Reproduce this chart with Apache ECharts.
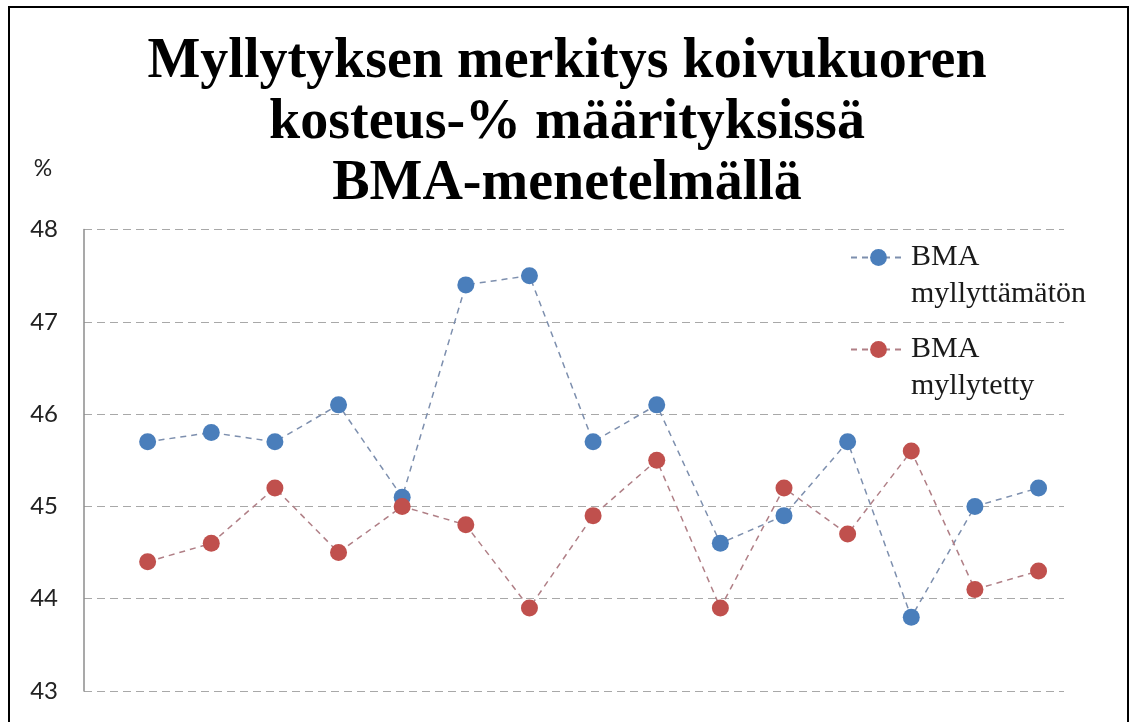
<!DOCTYPE html>
<html>
<head>
<meta charset="utf-8">
<script src="https://cdn.jsdelivr.net/npm/echarts@6/dist/echarts.min.js"></script>
<style>
  html, body { margin: 0; padding: 0; background: #ffffff; }
  #chart { width: 1134px; height: 722px; }
</style>
</head>
<body>
<div id="chart"></div>
<script>
// Sample numbers along the horizontal axis
const samples = [1, 2, 3, 4, 5, 6, 7, 8, 9, 10, 11, 12, 13, 14, 15];
// Moisture-% of birch bark, unmilled vs milled samples (BMA method)
const unmilled = [45.7, 45.8, 45.7, 46.1, 45.1, 47.4, 47.5, 45.7, 46.1, 44.6, 44.9, 45.7, 43.8, 45.0, 45.2];
const milled   = [44.4, 44.6, 45.2, 44.5, 45.0, 44.8, 43.9, 44.9, 45.5, 43.9, 45.2, 44.7, 45.6, 44.1, 44.3];
const seriesNames = ['BMA myllyttämätön', 'BMA myllytetty'];
const titleLines = ['Myllytyksen merkitys koivukuoren', 'kosteus-% määrityksissä', 'BMA-menetelmällä'];
const yMin = 43, yMax = 48, yStep = 1;

const chart = echarts.init(document.getElementById('chart'), null, { renderer: 'canvas' });

function lineSeries(name, values, markerColor, lineColor) {
  return {
    name: name,
    type: 'line',
    data: samples.map((s, i) => [s, values[i]]),
    symbol: 'circle',
    symbolSize: 17,
    itemStyle: { color: markerColor },
    lineStyle: { color: lineColor, width: 1.5, type: [6, 5] },
    emphasis: { disabled: true },
    animation: false
  };
}

chart.setOption({
  backgroundColor: '#ffffff',
  animation: false,
  grid: { left: 84, right: 70, top: 229.5, bottom: 31, containLabel: false },
  xAxis: {
    type: 'value',
    min: 0,
    max: 15.4,
    axisLine: { show: false },
    axisTick: { show: false },
    axisLabel: { show: false },
    splitLine: { show: false }
  },
  yAxis: {
    type: 'value',
    min: yMin,
    max: yMax,
    interval: yStep,
    axisLine: { show: true, lineStyle: { color: '#8c8c8c', width: 1.5 } },
    axisTick: { show: false },
    axisLabel: {
      margin: 26,
      color: '#222222',
      fontFamily: 'Lato',
      fontSize: 24
    },
    splitLine: { show: true, lineStyle: { color: '#a8a8a8', width: 1, type: [8, 5] } }
  },
  legend: {
    orient: 'vertical',
    left: 845,
    top: 197,
    itemWidth: 55,
    itemHeight: 21,
    itemGap: -19,
    data: seriesNames,
    // a leading blank line keeps the marker level with the first text line
    formatter: name => '\n' + name.replace(' ', '\n'),
    textStyle: {
      fontFamily: 'Liberation Serif',
      fontSize: 30,
      lineHeight: 37,
      color: '#1a1a1a'
    }
  },
  graphic: [
    {
      type: 'rect',
      shape: { x: 9, y: 7, width: 1119, height: 800 },
      style: { fill: 'none', stroke: '#000000', lineWidth: 2 },
      silent: true
    },
    {
      type: 'text',
      x: 567,
      y: 124,
      style: {
        text: titleLines.join('\n'),
        font: 'bold 56px "Liberation Serif"',
        lineHeight: 61,
        fill: '#000000',
        align: 'center',
        verticalAlign: 'middle'
      },
      silent: true
    },
    {
      type: 'text',
      x: 43,
      y: 169,
      style: {
        text: '%',
        font: '23px Lato',
        fill: '#222222',
        align: 'center',
        verticalAlign: 'middle'
      },
      silent: true
    }
  ],
  series: [
    lineSeries(seriesNames[0], unmilled, '#4a7ebb', '#7d8fae'),
    lineSeries(seriesNames[1], milled, '#c0504d', '#b07f86')
  ]
});
</script>
</body>
</html>
